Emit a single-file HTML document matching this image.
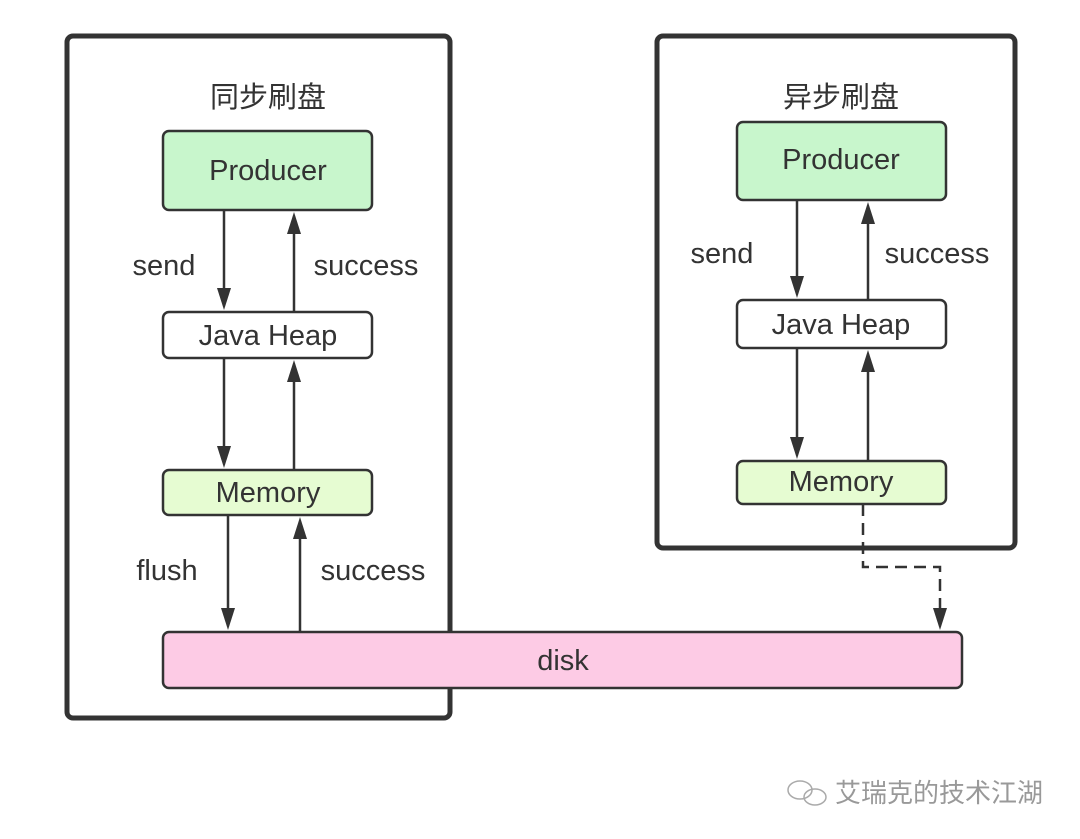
<!DOCTYPE html>
<html><head><meta charset="utf-8"><style>
html,body{margin:0;padding:0;background:#fff;}
svg{display:block;}
text{font-family:"Liberation Sans","Noto Sans CJK SC",sans-serif;fill:#333;}
</style></head><body>
<svg width="1080" height="839" viewBox="0 0 1080 839">
<rect x="67" y="36" width="383" height="682" rx="6" fill="none" stroke="#333" stroke-width="5"/>
<rect x="657" y="36" width="358" height="512" rx="6" fill="none" stroke="#333" stroke-width="5"/>
<text x="268" y="107" font-size="29" text-anchor="middle">同步刷盘</text>
<text x="841" y="107" font-size="29" text-anchor="middle">异步刷盘</text>
<g stroke="#333" stroke-width="2.5">
<rect x="163" y="131" width="209" height="79" rx="6" fill="#c8f6cc"/>
<rect x="163" y="312" width="209" height="46" rx="6" fill="#fff"/>
<rect x="163" y="470" width="209" height="45" rx="6" fill="#e6fcd2"/>
<rect x="163" y="632" width="799" height="56" rx="6" fill="#fdcbe5"/>
<rect x="737" y="122" width="209" height="78" rx="6" fill="#c8f6cc"/>
<rect x="737" y="300" width="209" height="48" rx="6" fill="#fff"/>
<rect x="737" y="461" width="209" height="43" rx="6" fill="#e6fcd2"/>
<line x1="224" y1="210" x2="224" y2="292"/><line x1="294" y1="312" x2="294" y2="232"/>
<line x1="224" y1="358" x2="224" y2="450"/><line x1="294" y1="470" x2="294" y2="380"/>
<line x1="228" y1="515" x2="228" y2="612"/><line x1="300" y1="632" x2="300" y2="537"/>
<line x1="797" y1="200" x2="797" y2="280"/><line x1="868" y1="300" x2="868" y2="222"/>
<line x1="797" y1="348" x2="797" y2="441"/><line x1="868" y1="461" x2="868" y2="370"/>
<polyline points="863,504 863,567 940,567 940,610" fill="none" stroke-dasharray="12,7"/>
</g>
<g fill="#333">
<polygon points="217,288 231,288 224,310"/><polygon points="287,234 301,234 294,212"/>
<polygon points="217,446 231,446 224,468"/><polygon points="287,382 301,382 294,360"/>
<polygon points="221,608 235,608 228,630"/><polygon points="293,539 307,539 300,517"/>
<polygon points="790,276 804,276 797,298"/><polygon points="861,224 875,224 868,202"/>
<polygon points="790,437 804,437 797,459"/><polygon points="861,372 875,372 868,350"/>
<polygon points="933,608 947,608 940,630"/>
</g>
<g font-size="29" text-anchor="middle">
<text x="268" y="180">Producer</text>
<text x="268" y="345">Java Heap</text>
<text x="268" y="502">Memory</text>
<text x="563" y="670">disk</text>
<text x="841" y="169">Producer</text>
<text x="841" y="334">Java Heap</text>
<text x="841" y="491">Memory</text>
<text x="164" y="275">send</text>
<text x="366" y="275">success</text>
<text x="167" y="580">flush</text>
<text x="373" y="580">success</text>
<text x="722" y="263">send</text>
<text x="937" y="263">success</text>
</g>
<g fill="none" stroke="#aaa" stroke-width="1.5">
<ellipse cx="800" cy="790" rx="12" ry="9"/><ellipse cx="815" cy="797" rx="11" ry="8"/>
</g>
<text x="835" y="802" font-size="26" style="fill:#999">艾瑞克的技术江湖</text>
</svg>
</body></html>
